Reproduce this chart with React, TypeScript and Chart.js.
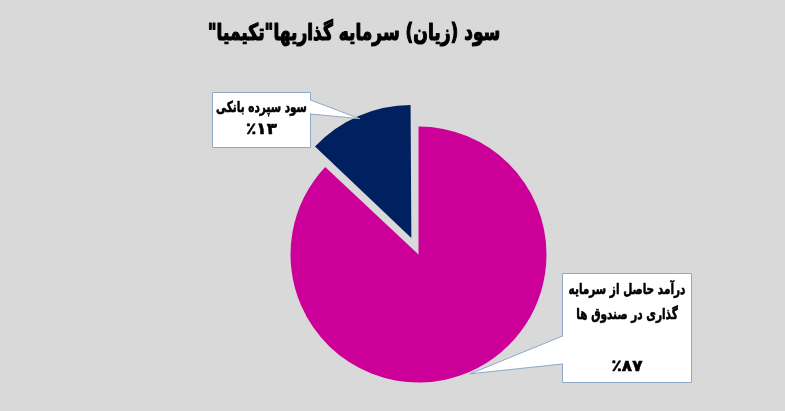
import { useEffect, useRef } from "react"
import { Chart, registerables, type ChartConfiguration, type Plugin } from "chart.js"

Chart.register(...registerables)

const chartTitle = 'سود (زیان) سرمایه گذاریها"تکیمیا"'
const sliceLabels = ["درآمد حاصل از سرمایه گذاری در صندوق ها", "سود سپرده بانکی"]
const sliceValues = [87, 13]
const sliceColors = ["#cc0099", "#002060"]
const sliceOffsets = [0, 72]
// callout text lines per slice (last line is the percentage)
const calloutLines = [
  ["درآمد حاصل از سرمایه", "گذاری در صندوق ها", "", "٪۸۷"],
  ["سود سپرده بانکی", "٪۱۳"],
]

const FONT = '"DejaVu Sans", sans-serif'

// box: x, y, w, h, line y positions, wedge base on box side
const calloutBoxes = [
  { x: 562, y: 273, w: 129, h: 109, lines: [290, 315, 0, 367], side: "left", base: [336, 364] },
  { x: 212, y: 92, w: 98, h: 55, lines: [108, 130], side: "right", base: [100, 114] },
]

// draw narrow, tall text (the original uses a condensed heavy Persian face)
function drawText(ctx: CanvasRenderingContext2D, t: string, x: number, y: number, sx: number, w: number) {
  ctx.save()
  ctx.translate(x, y)
  ctx.scale(sx, 1)
  ctx.lineWidth = w
  ctx.lineJoin = "round"
  ctx.strokeStyle = "#000"
  ctx.strokeText(t, 0, 0)
  ctx.fillText(t, 0, 0)
  ctx.restore()
}

const overlayPlugin: Plugin<"pie"> = {
  id: "overlay",
  afterDraw(chart) {
    const ctx = chart.ctx
    ctx.save()
    ctx.direction = "rtl"
    ctx.textAlign = "center"
    ctx.textBaseline = "middle"
    ctx.fillStyle = "#000"
    ctx.font = `bold 23px ${FONT}`
    drawText(ctx, chartTitle, 354, 34, 0.74, 1.2)

    const meta = chart.getDatasetMeta(0)
    meta.data.forEach((el, i) => {
      const p = el.getProps(["x", "y", "startAngle", "endAngle", "outerRadius"], true) as any
      const a = (p.startAngle + p.endAngle) / 2
      const r = p.outerRadius + sliceOffsets[i] / 4 + 2
      const tx = p.x + Math.cos(a) * r
      const ty = p.y + Math.sin(a) * r
      const b = calloutBoxes[i]
      const bx = b.side === "left" ? b.x : b.x + b.w

      // box + wedge
      ctx.fillStyle = "#ffffff"
      ctx.strokeStyle = "#8ea9c8"
      ctx.lineWidth = 1
      ctx.beginPath()
      ctx.rect(b.x + 0.5, b.y + 0.5, b.w, b.h)
      ctx.fill()
      ctx.stroke()
      ctx.beginPath()
      ctx.moveTo(bx + 0.5, b.base[0])
      ctx.lineTo(tx, ty)
      ctx.lineTo(bx + 0.5, b.base[1])
      ctx.closePath()
      ctx.fill()
      ctx.beginPath()
      ctx.moveTo(bx + 0.5, b.base[0])
      ctx.lineTo(tx, ty)
      ctx.lineTo(bx + 0.5, b.base[1])
      ctx.stroke()
      ctx.fillStyle = "#ffffff"
      ctx.fillRect(bx - 0.5, b.base[0] + 1, 2, b.base[1] - b.base[0] - 2)

      ctx.fillStyle = "#000"
      const lines = calloutLines[i]
      lines.forEach((t, j) => {
        if (!t) return
        const isPct = j === lines.length - 1
        ctx.font = `bold ${isPct ? 16 : 15}px ${FONT}`
        drawText(ctx, t, b.x + b.w / 2 + 0.5, b.lines[j], isPct ? 1.05 : 0.7, 0.6)
      })
    })
    ctx.restore()
  },
}

const bgPlugin: Plugin<"pie"> = {
  id: "bg",
  beforeDraw(chart) {
    const ctx = chart.ctx
    ctx.save()
    ctx.fillStyle = "#d9d9d9"
    ctx.fillRect(0, 0, chart.width, chart.height)
    ctx.restore()
  },
}

export default function App() {
  const canvasRef = useRef<HTMLCanvasElement>(null)

  useEffect(() => {
    if (!canvasRef.current) return
    document.body.style.margin = "0"

    const config: ChartConfiguration<"pie"> = {
      type: "pie",
      data: {
        labels: sliceLabels,
        datasets: [
          {
            data: sliceValues,
            backgroundColor: sliceColors,
            borderWidth: 0,
            offset: sliceOffsets,
            radius: 128,
          } as any,
        ],
      },
      options: {
        animation: false,
        responsive: false,
        maintainAspectRatio: false,
        layout: { padding: { left: 60, right: 8, top: 105, bottom: 7 } },
        plugins: {
          legend: { display: false },
          title: { display: false },
          tooltip: { enabled: false },
        },
      },
      plugins: [bgPlugin, overlayPlugin],
    }

    const chart = new Chart(canvasRef.current, config)
    return () => chart.destroy()
  }, [])

  return (
    <div style={{ width: 785, height: 411 }}>
      <canvas ref={canvasRef} width={785} height={411} style={{ display: "block" }} />
    </div>
  )
}
